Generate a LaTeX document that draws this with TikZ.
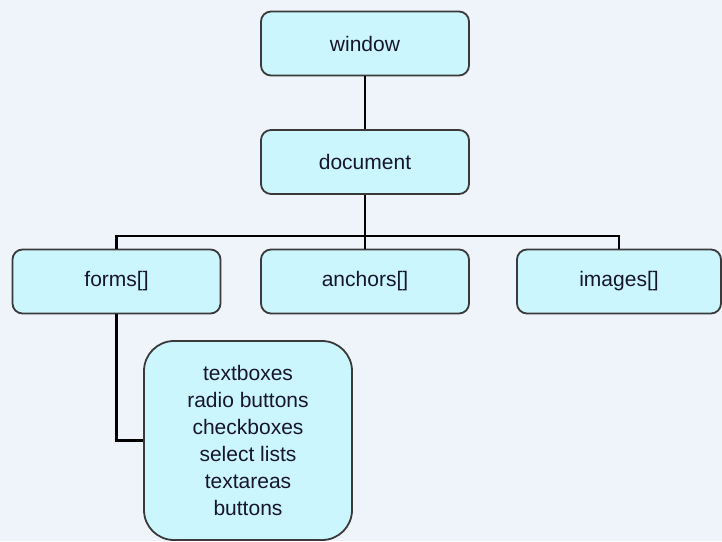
\documentclass[tikz,border=0pt]{standalone}
\usepackage{fontspec}
\setmainfont{Liberation Sans}
\definecolor{bgc}{HTML}{EEF4FA}
\definecolor{boxfill}{HTML}{CCF6FE}
\definecolor{boxline}{HTML}{3A3A3A}
\definecolor{txt}{HTML}{16162E}
\begin{document}
\begin{tikzpicture}[x=1pt,y=-1pt,
  box/.style={draw=boxline, line width=1.8pt, fill=boxfill, rounded corners=10pt,
    minimum width=208pt, minimum height=64pt, inner sep=0pt, text=txt,
    font=\fontsize{21}{27}\selectfont},
  bigbox/.style={box, rounded corners=30pt, minimum height=199pt, align=center},
  conn/.style={draw=black, line width=2.8pt}]
\fill[bgc] (0,0) rectangle (722,541);
\useasboundingbox (0,0) rectangle (722,541);
\node[box] (window) at (365,43.5) {window};
\node[box] (doc) at (365,162) {document};
\node[box] (forms) at (116.5,281.5) {forms[]};
\node[box] (anchors) at (365,281.5) {anchors[]};
\node[box, minimum width=204pt] (images) at (619,281.5) {images[]};
\node[bigbox] (fields) at (248,440.5) {textboxes\\radio buttons\\checkboxes\\select lists\\textareas\\buttons};
\coordinate (bar) at (365,236);
\draw[conn] (window.south) -- (doc.north);
\draw[conn] (doc.south) -- (bar);
\draw[conn] (bar) -- (anchors.north);
\draw[conn] (bar) -| (forms.north);
\draw[conn] (bar) -| (images.north);
\draw[conn] (forms.south) |- (fields.west);
\end{tikzpicture}
\end{document}
